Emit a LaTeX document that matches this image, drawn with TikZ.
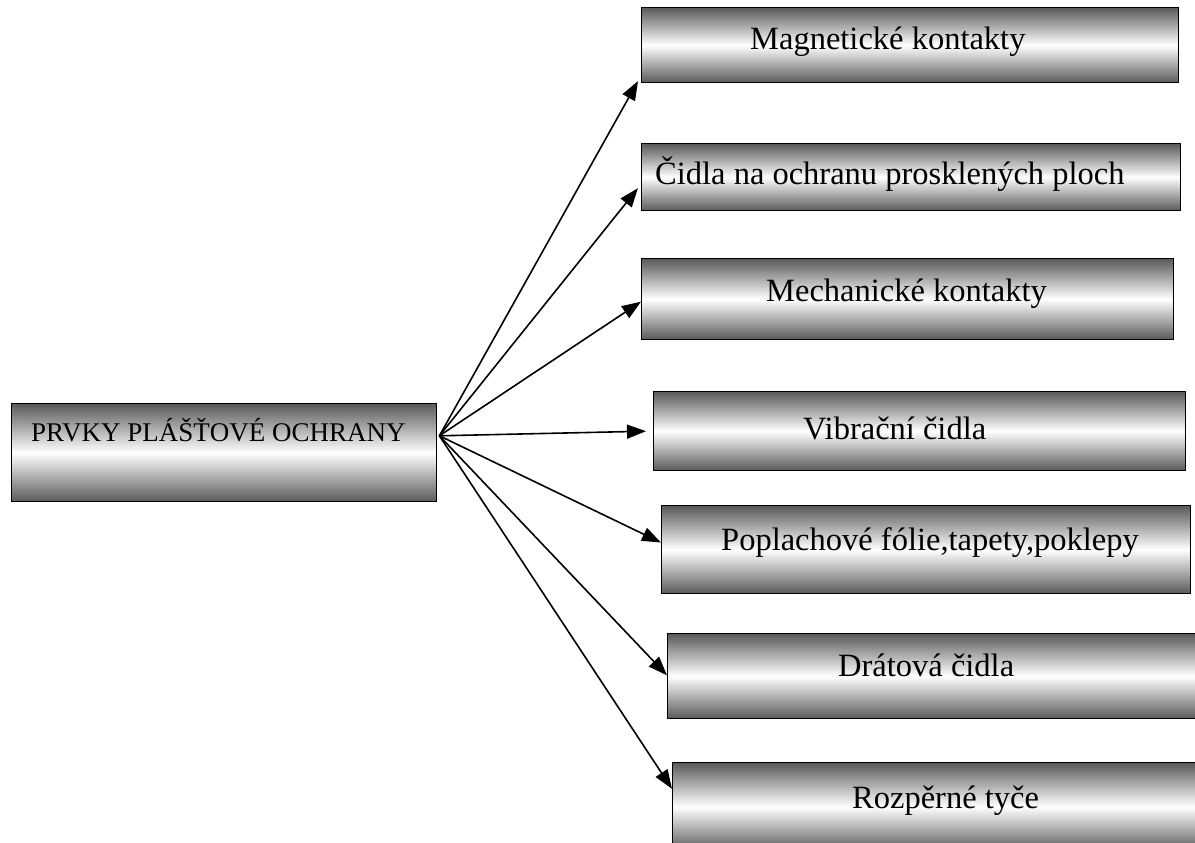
\documentclass[tikz,border=0pt]{standalone}
\usepackage{fontspec}
\setmainfont{Liberation Serif}
\usetikzlibrary{arrows.meta,calc}

\tikzset{
  barbox/.style={draw=black, line width=1.4pt, rectangle, inner sep=0pt,
    anchor=north west,
    top color=black!65, bottom color=black!65, middle color=white},
  itemtext/.style={anchor=base west, inner sep=0pt, font=\fontsize{32.5}{36}\selectfont},
  roottext/.style={anchor=base west, inner sep=0pt, font=\fontsize{27}{30}\selectfont},
  link/.style={line width=1.6pt, -{Triangle[length=19pt,width=14pt]}}
}

\begin{document}
\begin{tikzpicture}[x=1pt, y=-1pt]
\useasboundingbox (0,0) rectangle (1195,843);
\clip (0,0) rectangle (1195,843);

% central box
\node[barbox, minimum width=425pt, minimum height=98pt] (root) at (11,403) {};
\node[roottext] (rootlbl) at (31,441) {PRVKY PLÁŠŤOVÉ OCHRANY};
\coordinate (hub) at ($(root.north east)!0.33!(root.south east)+(2,0)$);

% branch boxes
\node[barbox, minimum width=537pt, minimum height=75pt] (b1) at (641,7) {};
\node[itemtext] (b1t) at (750,50) {Magnetické kontakty};

\node[barbox, minimum width=539pt, minimum height=67pt] (b2) at (641,143) {};
\node[itemtext] (b2t) at (655,184) {Čidla na ochranu prosklených ploch};

\node[barbox, minimum width=532pt, minimum height=81pt] (b3) at (641,258) {};
\node[itemtext] (b3t) at (766,301) {Mechanické kontakty};

\node[barbox, minimum width=532pt, minimum height=79pt] (b4) at (653,391) {};
\node[itemtext] (b4t) at (803,439) {Vibrační čidla};

\node[barbox, minimum width=529pt, minimum height=88pt] (b5) at (661,505) {};
\node[itemtext] (b5t) at (721,550) {Poplachové fólie,tapety,poklepy};

\node[barbox, minimum width=540pt, minimum height=85pt] (b6) at (667,633) {};
\node[itemtext] (b6t) at (838,676) {Drátová čidla};

\node[barbox, minimum width=540pt, minimum height=88pt] (b7) at (672,762) {};
\node[itemtext] (b7t) at (852,808) {Rozpěrné tyče};

% connectors
\draw[link] (hub) -- ($(b1.north west)!0.97!(b1.south west)+(-3,0)$);
\draw[link] (hub) -- ($(b2.north west)!0.66!(b2.south west)+(-3,0)$);
\draw[link] (hub) -- ($(b3.north west)!0.53!(b3.south west)$);
\draw[link] (hub) -- ($(b4.west)+(-7,0)$);
\draw[link] (hub) -- ($(b5.north west)!0.42!(b5.south west)$);
\draw[link] (hub) -- ($(b6.north west)!0.49!(b6.south west)$);
\draw[link] (hub) -- ($(b7.north west)!0.30!(b7.south west)$);
\end{tikzpicture}
\end{document}
